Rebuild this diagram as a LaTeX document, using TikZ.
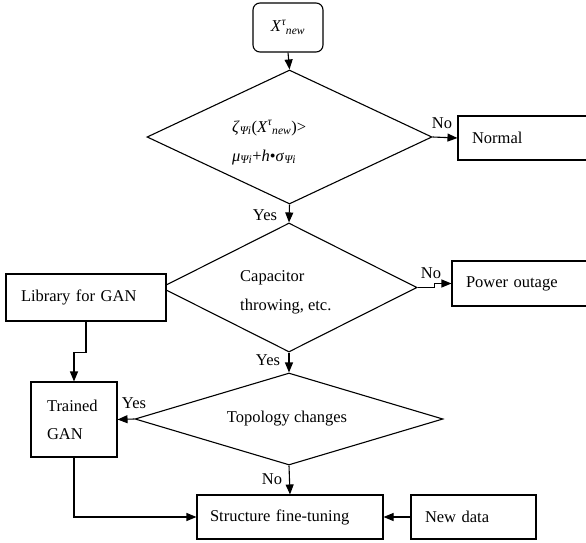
\documentclass[tikz,border=0pt]{standalone}
\usepackage{fontspec}
\setmainfont{Liberation Serif}
\usetikzlibrary{arrows.meta,shapes.geometric}
\newcommand{\mysupsub}[2]{\textsuperscript{#1}\kern-0.5pt\textsubscript{#2}}
\begin{document}
\begin{tikzpicture}[x=1pt,y=-1pt,
  font=\fontsize{16.5}{20}\selectfont,
  bx/.style={draw, line width=1.1pt, fill=white, inner ysep=0pt, align=left},
  startbox/.style={draw, line width=1.1pt, rounded corners=7pt, inner sep=0pt,
    minimum width=70pt, minimum height=49pt},
  dia/.style={draw, diamond, line width=1.1pt, inner sep=0pt},
  lbl/.style={inner sep=0pt},
  conn/.style={line width=1.1pt, -{Triangle[length=10pt,width=8pt]}},
  plain/.style={line width=1.1pt}]
\useasboundingbox (0,0) rectangle (586,543);
\clip (0,0) rectangle (586,543);

% decision diamonds
\node[dia, minimum width=285pt, minimum height=134pt] (d1) at (289.5,137) {};
\node[dia, minimum width=256pt, minimum height=129pt] (d2) at (289,287.5) {};
\node[dia, minimum width=308pt, minimum height=92pt] (d3) at (289,419) {};

% boxes
\node[startbox] (xnew) at (288,27.5) {\textit{X}\mysupsub{\textit{τ}}{\textit{new}}};
\node[bx, minimum height=44pt, text width=114pt, inner xsep=14pt] (normal) at (529,138) {Normal};
\node[bx, minimum height=45pt, text width=120pt, inner xsep=14pt] (power) at (526,283.5) {Power outage};
\node[bx, minimum height=75pt, text width=54pt, inner xsep=16pt,
  font=\fontsize{16.5}{28}\selectfont] (trained) at (74,419.5) {Trained\\GAN};
\node[bx, minimum height=44pt, text width=160pt, inner xsep=13pt] (struct) at (290,517) {Structure fine-tuning};
\node[bx, minimum height=44pt, text width=97pt, inner xsep=14pt] (newdata) at (473.5,517) {New data};

% diamond texts
\node[lbl, align=left, anchor=west, font=\fontsize{16.5}{29}\selectfont] (d1t) at (232,142.5)
  {\textit{ζ}\textsubscript{\textit{Ψi}}(\textit{X}\mysupsub{\textit{τ}}{\textit{new}})>\\
   \textit{μ}\textsubscript{\textit{Ψi}}+\textit{h}•\textit{σ}\textsubscript{\textit{Ψi}}};
\node[lbl, align=left, anchor=west, font=\fontsize{16.5}{29}\selectfont] (d2t) at (240,292.5)
  {Capacitor\\throwing, etc.};
\node[lbl] (d3t) at (287,419) {Topology changes};

% library box drawn over the diamond's left vertex
\node[bx, minimum height=47pt, text width=130pt, inner xsep=15pt] (lib) at (86,297.5) {Library for GAN};

% connectors
\draw[conn] (xnew.south) -- (d1.north);
\draw[conn] (d1.east) -- (normal.west);
\draw[conn] (d1.south) -- (d2.north);
\draw[conn] (d2.east) -- ++(17,0) |- (power.west);
\draw[conn] (d2.south) -- (d3.north);
\draw[conn] (lib.south) -- ++(0,31) -| (trained.north);
\draw[conn] (d3.west) -- (trained.east);
\draw[conn] (d3.south) -- (struct.north);
\draw[conn] (trained.south) |- (struct.west);
\draw[conn] (newdata.west) -- (struct.east);

% labels
\node[lbl] (no1) at (442,123) {No};
\node[lbl] (yes1) at (265,215) {Yes};
\node[lbl] (no2) at (431,273) {No};
\node[lbl] (yes2) at (268,360) {Yes};
\node[lbl] (yes3) at (134,403) {Yes};
\node[lbl] (no3) at (272,479) {No};
\end{tikzpicture}
\end{document}
